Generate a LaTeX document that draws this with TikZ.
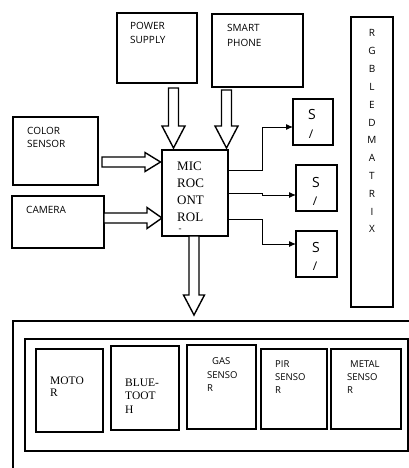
\documentclass[tikz,border=0pt]{standalone}
\usepackage{fontspec}
\setmainfont{Liberation Serif}
\setsansfont{Open Sans}
\usetikzlibrary{arrows.meta}
\begin{document}
\begin{tikzpicture}[x=1pt,y=-1pt,
  box/.style 2 args={draw,line width=1.7pt,anchor=north west,inner sep=0pt,outer sep=0pt,minimum width=#1pt,minimum height=#2pt},
  sl/.style={font=\sffamily\fontsize{10}{12}\selectfont,anchor=base west,inner sep=0pt},
  ssl/.style={font=\sffamily\fontsize{9.5}{11}\selectfont,anchor=base west,inner sep=0pt},
  rl/.style={font=\fontsize{13}{15}\selectfont,anchor=base west,inner sep=0pt},
  srl/.style={font=\fontsize{11.5}{13}\selectfont,anchor=base west,inner sep=0pt},
  sbig/.style={font=\sffamily\fontsize{14}{16}\selectfont,anchor=base,inner sep=0pt},
  slash/.style={font=\sffamily\fontsize{12}{14}\selectfont,anchor=base,inner sep=0pt},
  hollow/.style={draw,line width=1.4pt,fill=white,line join=miter},
  conn/.style={line width=1pt,-{Latex[length=7pt,width=6pt]}}
]
\fill[white] (0,0) rectangle (409,468);
\useasboundingbox (0,0) rectangle (409,468);

% boxes
\node[box={80}{70}] (ps) at (117,13) {};
\node[box={91}{73}] (sp) at (212,14) {};
\node[box={42}{290}] (rgb) at (351,17) {};
\node[box={85}{68}] (cs) at (13,117) {};
\node[box={92}{52}] (cam) at (12,196) {};
\node[box={66}{86}] (mcu) at (162,150) {};
\node[box={40}{46}] (s1) at (293,99) {};
\node[box={41}{46}] (s2) at (296,165) {};
\node[box={41}{46}] (s3) at (296,231) {};

% bottom group
\draw[line width=1.5pt] (412,321) -- (13,321) -- (13,472);
\node[box={383}{112},line width=1.5pt] (inner) at (25,339) {};
\node[box={67}{83}] (motor) at (36,349) {};
\node[box={68}{84}] (bt) at (111,346) {};
\node[box={69}{84}] (gas) at (187,345) {};
\node[box={66}{80}] (pir) at (261,349) {};
\node[box={70}{80}] (metal) at (331,349) {};

% hollow arrows
\path[hollow] (168.5,88) -- (178.5,88) -- (178.5,126) -- (185,126) -- (173.5,148) -- (162,126) -- (168.5,126) -- cycle;
\path[hollow] (221.5,90) -- (231.5,90) -- (231.5,126) -- (238,126) -- (226.5,148) -- (215,126) -- (221.5,126) -- cycle;
\path[hollow] (102,157) -- (145,157) -- (145,152.5) -- (160.5,162) -- (145,171.5) -- (145,167) -- (102,167) -- cycle;
\path[hollow] (104,213) -- (147,213) -- (147,207.5) -- (162,218) -- (147,228.5) -- (147,223) -- (104,223) -- cycle;
\path[hollow] (189,236) -- (199,236) -- (199,295) -- (204.5,295) -- (194,315) -- (183.5,295) -- (189,295) -- cycle;

% connectors
\coordinate (c1) at (mcu.east |- 0,170);
\coordinate (c2) at (mcu.east |- 0,193);
\coordinate (c3) at (mcu.east |- 0,219);
\draw[conn] (c1) -- (262,170) -- (262,127) -- (s1.west |- 0,127);
\draw[conn] (c2) -- (262,193) -- (262,195) -- (s2.west |- 0,195);
\draw[conn] (c3) -- (262,219) -- (262,244) -- (s3.west |- 0,244);

% texts
\node[sl] (t1) at (130,30) {POWER};
\node[sl] (t2) at (130,44) {SUPPLY};
\node[sl] (t3) at (227,32) {SMART};
\node[sl] (t4) at (227,47) {PHONE};
\node[sl] (t5) at (27,134) {COLOR};
\node[sl] (t6) at (27,147) {SENSOR};
\node[sl] (t7) at (26,213) {CAMERA};

\node[rl] (m1) at (177,170) {MIC};
\node[rl] (m2) at (177,187) {ROC};
\node[rl] (m3) at (177,204) {ONT};
\node[rl] (m4) at (177,221) {ROL};
\node[font=\fontsize{9}{10}\selectfont,inner sep=0pt] (m5) at (180,230.5) {-};

\foreach \l [count=\i] in {R,G,B,L,E,D,M,A,T,R,I,X}
  \node[font=\sffamily\fontsize{10}{12}\selectfont,anchor=base,inner sep=0pt] (rgb\i) at (372,{37+(\i-1)*17.8}) {\l};

\node[sbig] (s1a) at (312,120) {S};
\node[slash] (s1b) at (311,138) {/};
\node[sbig] (s2a) at (316,187) {S};
\node[slash] (s2b) at (315,205) {/};
\node[sbig] (s3a) at (316,252) {S};
\node[slash] (s3b) at (315,270) {/};

\node[srl] (b1) at (50,384) {MOTO};
\node[srl] (b2) at (50,396) {R};
\node[srl] (b3) at (125,386) {BLUE-};
\node[srl] (b4) at (125,399) {TOOT};
\node[srl] (b5) at (125,413) {H};
\node[ssl] (b6) at (212,364) {GAS};
\node[ssl] (b7) at (207,378) {SENSO};
\node[ssl] (b8) at (207,391) {R};
\node[ssl] (b9) at (275,367) {PIR};
\node[ssl] (b10) at (275,380) {SENSO};
\node[ssl] (b11) at (275,393) {R};
\node[ssl] (b12) at (350,367) {METAL};
\node[ssl] (b13) at (347,380) {SENSO};
\node[ssl] (b14) at (347,393) {R};
\end{tikzpicture}
\end{document}
